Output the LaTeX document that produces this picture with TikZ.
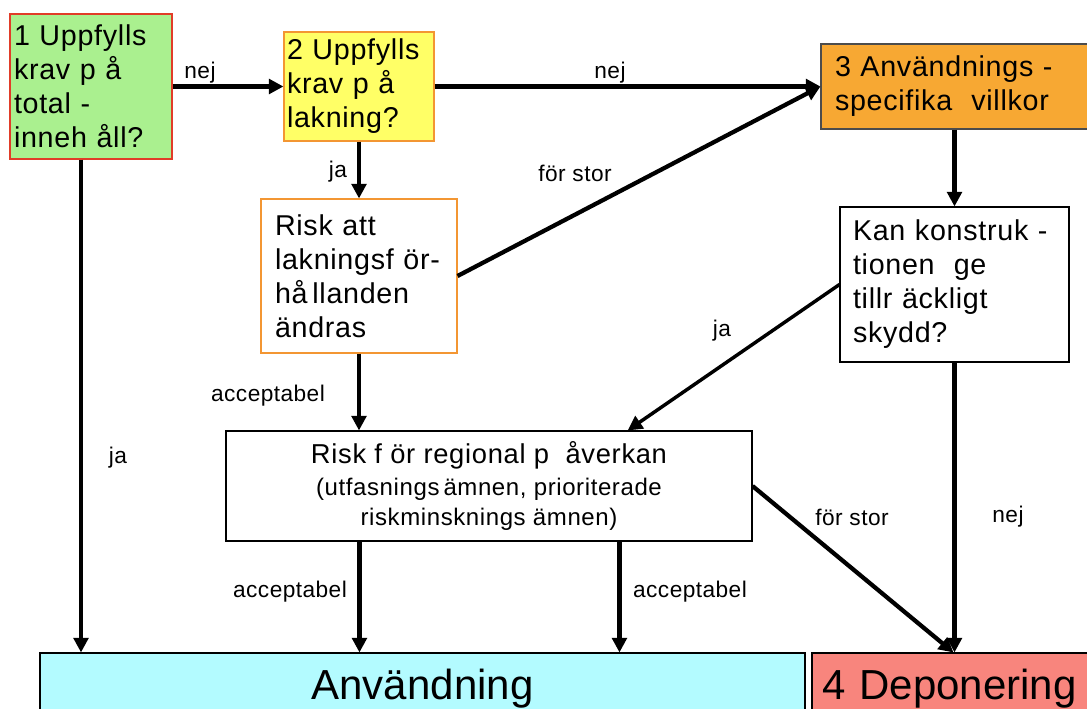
\documentclass[tikz,border=0pt]{standalone}
\usepackage{fontspec}
\setmainfont{Liberation Sans}
\newfontfamily\boxfont[LetterSpace=2.5]{Liberation Sans}
\newfontfamily\lblfont[LetterSpace=2]{Liberation Sans}
\usetikzlibrary{arrows.meta,calc}
\definecolor{cgreen}{RGB}{170,240,143}
\definecolor{cgreenb}{RGB}{225,60,40}
\definecolor{cyellow}{RGB}{255,255,102}
\definecolor{corange}{RGB}{247,168,51}
\definecolor{cob}{RGB}{243,150,50}
\definecolor{ccyan}{RGB}{179,251,255}
\definecolor{csalmon}{RGB}{248,133,125}
\begin{document}
\begin{tikzpicture}[x=0.75pt,y=-0.75pt,
  box/.style={draw=black,line width=0.8pt,inner sep=0pt,align=left,
    font=\boxfont\fontsize{21.5pt}{25.5pt}\selectfont},
  lbl/.style={inner sep=0pt,font=\lblfont\fontsize{17pt}{18pt}\selectfont},
  arr/.style={line width=3.2pt,-{Triangle[length=11pt,width=11pt]}}]
\useasboundingbox (0,0) rectangle (1087,709);

% boxes
\node[box,draw=cgreenb,fill=cgreen,minimum width=121.5pt,minimum height=108.75pt,text width=115.5pt]
  (b1) at (91,86.5) {1 Uppfylls\\krav p å\\total -\\inneh åll?};
\node[box,draw=cob,fill=cyellow,minimum width=112.5pt,minimum height=81.75pt,text width=108pt]
  (b2) at (359,86.5) {2 Uppfylls\\krav p å\\lakning?};
\node[box,draw=black!70,fill=corange,minimum width=205.5pt,minimum height=63.75pt,text width=184.5pt]
  (b3) at (958,86.5) {3 Användnings -\\specifika\ \ villkor};
\node[box,draw=cob,fill=white,minimum width=147pt,minimum height=115.5pt,text width=126pt]
  (risk) at (359,276) {Risk att\\lakningsf ör-\\hå\,llanden\\ändras};
\node[box,fill=white,minimum width=171.75pt,minimum height=116.25pt,text width=152.25pt]
  (kan) at (954.5,284.5) {Kan konstruk -\\tionen\ \ ge\\tillr äckligt\\skydd?};
\node[box,fill=white,align=center,minimum width=394.5pt,minimum height=82.5pt]
  (reg) at (489,486) {{\fontsize{20.5pt}{25pt}\selectfont Risk f ör regional p\ \ åverkan}\\[-1pt]
  {\fontsize{18pt}{22pt}\selectfont (utfasnings\,ämnen, prioriterade}\\[-3pt]
  {\fontsize{18pt}{22pt}\selectfont riskminsknings ämnen)}};
\node[draw=black,line width=0.8pt,fill=ccyan,inner sep=0pt,minimum width=573.75pt,minimum height=54pt,
  font=\fontsize{31.5pt}{36pt}\selectfont] (use) at (422.5,689) {Användning};
\node[draw=black,line width=0.8pt,fill=csalmon,inner sep=0pt,minimum width=212.25pt,minimum height=54pt,
  text width=197.25pt,align=left,font=\fontsize{31.5pt}{36pt}\selectfont] (dep) at (953.5,689) {4 Deponering};

% connectors
\draw[arr] (b1) -- (b2);
\draw[arr] (b2) -- (b3);
\draw[arr] (b2) -- (risk);
\draw[arr] (risk.east) -- (b3.west);
\draw[arr] (b3.south -| kan.north) -- (kan.north);
\draw[arr,line width=2.6pt] (kan.west) -- ($(reg.north west)!0.763!(reg.north east)$);
\draw[arr] (risk.south) -- (risk.south |- reg.north);
\coordinate (d1) at ($(b1.south)+(-10,0)$);
\draw[arr] (d1) -- (d1 |- use.north);
\coordinate (d2) at ($(reg.south west)+(134,0)$);
\coordinate (d3) at ($(reg.south west)+(394,0)$);
\draw[arr] (d2) -- (d2 |- use.north);
\draw[arr] (d3) -- (d3 |- use.north);
\draw[arr] (reg.east) -- (dep.north);
\draw[arr] (kan.south) -- (kan.south |- dep.north);

% labels
\node[lbl] (l1) at (200,73) {nej};
\node[lbl] (l2) at (610,73) {nej};
\node[lbl] (l3) at (338,172) {ja};
\node[lbl] (l4) at (575,173) {för stor};
\node[lbl] (l5) at (722,331) {ja};
\node[lbl] (l6) at (268,396) {acceptabel};
\node[lbl] (l7) at (118,458) {ja};
\node[lbl] (l8) at (852,517) {för stor};
\node[lbl] (l9) at (1008,517) {nej};
\node[lbl] (l10) at (290,592) {acceptabel};
\node[lbl] (l11) at (690,592) {acceptabel};
\end{tikzpicture}
\end{document}
